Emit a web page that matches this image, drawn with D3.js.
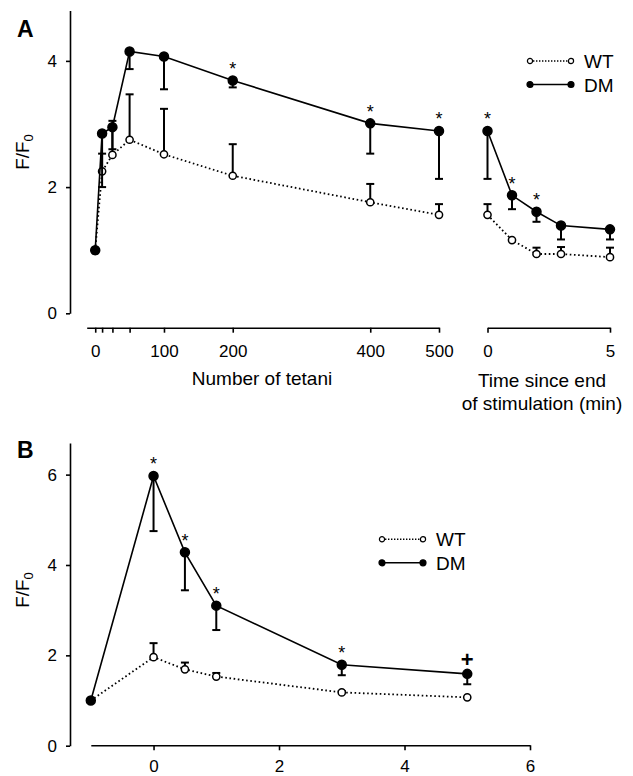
<!DOCTYPE html>
<html>
<head>
<meta charset="utf-8">
<script src="https://cdn.jsdelivr.net/npm/d3@7"></script>
<style>
  body { margin: 0; background: #fff; }
  text { font-family: "Liberation Sans", Arial, sans-serif; fill: #000; }
</style>
</head>
<body>
<script>
// Panel A, left part: number of tetani
var tetani = [0, 10, 25, 50, 100, 200, 400, 500];
var tetaniTicks = [0, 10, 25, 50, 100, 200, 400, 500];
var tetaniLabels = [0, 100, 200, 400, 500];
var wtTet = [1.0, 2.25, 2.51, 2.75, 2.52, 2.18, 1.76, 1.56];
var wtTetSem = [0, 0.28, 0.54, 0.72, 0.72, 0.50, 0.29, 0.17];
var dmTet = [1.0, 2.85, 2.95, 4.15, 4.07, 3.69, 3.01, 2.89];
var dmTetSem = [0, 0.85, 0.35, 0.28, 0.52, 0.11, 0.48, 0.76];
var sigTet = [200, 400, 500];

// Panel A, right part: time since end of stimulation (min)
var timeA = [0, 1, 2, 3, 5];
var timeATicks = [0, 5];
var wtTime = [1.56, 1.16, 0.94, 0.94, 0.89];
var wtTimeSem = [0.17, 0, 0.10, 0.11, 0.15];
var dmTime = [2.89, 1.87, 1.61, 1.39, 1.33];
var dmTimeSem = [0.76, 0.22, 0.16, 0.22, 0.16];
var sigTime = [0, 1, 2];
var yTicksA = [0, 2, 4];

// Panel B
var timeB = [-1, 0, 0.5, 1, 3, 5];
var xTicksB = [0, 2, 4, 6];
var wtB = [1.0, 1.96, 1.69, 1.53, 1.18, 1.07];
var wtBSem = [0, 0.31, 0.15, 0.08, 0.03, 0];
var dmB = [1.0, 5.97, 4.28, 3.10, 1.79, 1.59];
var dmBSem = [0, 1.22, 0.84, 0.54, 0.23, 0.23];
var sigB = [0, 0.5, 1, 3];
var plusB = [5];
var yTicksB = [0, 2, 4, 6];

var seriesNames = ["WT", "DM"];

var svg = d3.select("body").append("svg")
    .attr("width", 633)
    .attr("height", 776);

// scales
var xTet = d3.scaleLinear().domain([-12.4, 500]).range([86.7, 439]);
var xTimeA = d3.scaleLinear().domain([0, 5]).range([487.5, 610]);
var yA = d3.scaleLinear().domain([0, 4.8]).range([313.3, 10.4]);
var xB = d3.scaleLinear().domain([-1, 6]).range([90.8, 530]);
var yB = d3.scaleLinear().domain([0, 6.7]).range([745.7, 443]);

var intFmt = d3.format("d");

function zip(xs, ys, es) {
    return xs.map(function(x, i) { return {x: x, y: ys[i], e: es[i]}; });
}

function styleAxis(g, size) {
    g.select(".domain").attr("stroke", "#000").attr("stroke-width", 1.6);
    g.selectAll(".tick line").attr("stroke", "#000").attr("stroke-width", 1.6);
    g.selectAll(".tick text")
        .attr("font-family", "Liberation Sans, Arial, sans-serif")
        .attr("font-size", size + "px")
        .attr("fill", "#000");
}

// draws one series: line, error bars, markers
function drawSeries(x, y, data, filled, up) {
    var line = d3.line()
        .x(function(d) { return x(d.x); })
        .y(function(d) { return y(d.y); });

    var g = svg.append("g");

    var bars = g.selectAll(".err")
        .data(data.filter(function(d) { return d.e > 0; }))
        .enter().append("g");
    bars.append("line")
        .attr("x1", function(d) { return x(d.x); })
        .attr("x2", function(d) { return x(d.x); })
        .attr("y1", function(d) { return y(d.y); })
        .attr("y2", function(d) { return y(up ? d.y + d.e : d.y - d.e); })
        .attr("stroke", "#000").attr("stroke-width", 2);
    bars.append("line")
        .attr("x1", function(d) { return x(d.x) - 4; })
        .attr("x2", function(d) { return x(d.x) + 4; })
        .attr("y1", function(d) { return y(up ? d.y + d.e : d.y - d.e); })
        .attr("y2", function(d) { return y(up ? d.y + d.e : d.y - d.e); })
        .attr("stroke", "#000").attr("stroke-width", 2);

    g.append("path")
        .datum(data)
        .attr("d", line)
        .attr("fill", "none")
        .attr("stroke", "#000")
        .attr("stroke-width", filled ? 1.6 : 1.8)
        .attr("stroke-dasharray", filled ? null : "1.6,2.6");

    g.selectAll("circle")
        .data(data)
        .enter().append("circle")
        .attr("cx", function(d) { return x(d.x); })
        .attr("cy", function(d) { return y(d.y); })
        .attr("r", filled ? 4.5 : 3.6)
        .attr("fill", filled ? "#000" : "#fff")
        .attr("stroke", "#000")
        .attr("stroke-width", 1.5);
}

function drawMarks(x, y, xs, dmVals, xsAll, sym) {
    svg.append("g").selectAll("text")
        .data(xs)
        .enter().append("text")
        .attr("x", function(d) { return x(d); })
        .attr("y", function(d) { return y(dmVals[xsAll.indexOf(d)]) - (sym === "+" ? 7 : 5.5); })
        .attr("text-anchor", "middle")
        .attr("font-size", sym === "+" ? "22px" : "18px")
        .attr("font-weight", sym === "+" ? "bold" : "normal")
        .text(sym);
}

function drawLegend(x0, y0) {
    var g = svg.append("g").attr("transform", "translate(" + x0 + "," + y0 + ")");
    seriesNames.forEach(function(name, i) {
        var yy = i * 23.5;
        g.append("line")
            .attr("x1", 0).attr("x2", 41).attr("y1", yy).attr("y2", yy)
            .attr("stroke", "#000")
            .attr("stroke-width", i ? 1.6 : 1.4)
            .attr("stroke-dasharray", i ? null : "1.4,1.6");
        g.selectAll(".m" + i)
            .data([0, 41])
            .enter().append("circle")
            .attr("cx", function(d) { return d; })
            .attr("cy", yy)
            .attr("r", i ? 3 : 2.6)
            .attr("fill", i ? "#000" : "#fff")
            .attr("stroke", "#000")
            .attr("stroke-width", 1.2);
        g.append("text")
            .attr("x", 54).attr("y", yy + 7)
            .attr("font-size", "19px")
            .text(name);
    });
}

// ---------- Panel A ----------
svg.append("g")
    .attr("transform", "translate(70,0)")
    .call(d3.axisLeft(yA).tickValues(yTicksA).tickFormat(intFmt)
        .tickSize(4).tickPadding(9).tickSizeOuter(0))
    .call(styleAxis, 17);

svg.append("g")
    .attr("transform", "translate(0,327.7)")
    .call(d3.axisBottom(xTet).tickValues(tetaniTicks).tickSize(5).tickPadding(12).tickSizeOuter(0)
        .tickFormat(function(d) { return tetaniLabels.indexOf(d) >= 0 ? intFmt(d) : ""; }))
    .call(styleAxis, 17);

svg.append("g")
    .attr("transform", "translate(0,327.7)")
    .call(d3.axisBottom(xTimeA).tickValues(timeATicks).tickFormat(intFmt)
        .tickSize(5).tickPadding(12).tickSizeOuter(0))
    .call(styleAxis, 17);

drawSeries(xTet, yA, zip(tetani, wtTet, wtTetSem), false, true);
drawSeries(xTet, yA, zip(tetani, dmTet, dmTetSem), true, false);
drawSeries(xTimeA, yA, zip(timeA, wtTime, wtTimeSem), false, true);
drawSeries(xTimeA, yA, zip(timeA, dmTime, dmTimeSem), true, false);

drawMarks(xTet, yA, sigTet, dmTet, tetani, "*");
drawMarks(xTimeA, yA, sigTime, dmTime, timeA, "*");

drawLegend(530, 61);

svg.append("text").attr("x", 17).attr("y", 37)
    .attr("font-size", "23px").attr("font-weight", "bold").text("A");

svg.append("text").attr("x", 262).attr("y", 385)
    .attr("text-anchor", "middle").attr("font-size", "19px").text("Number of tetani");
svg.append("text").attr("x", 542).attr("y", 387)
    .attr("text-anchor", "middle").attr("font-size", "19px").text("Time since end");
svg.append("text").attr("x", 542).attr("y", 410)
    .attr("text-anchor", "middle").attr("font-size", "19px").text("of stimulation (min)");

function yLabel(cy) {
    var t = svg.append("text")
        .attr("transform", "translate(29," + cy + ") rotate(-90)")
        .attr("text-anchor", "middle")
        .attr("font-size", "19px");
    t.append("tspan").text("F/F");
    t.append("tspan").attr("font-size", "13px").attr("dy", "4").text("0");
}
yLabel(152);

// ---------- Panel B ----------
svg.append("g")
    .attr("transform", "translate(70,0)")
    .call(d3.axisLeft(yB).tickValues(yTicksB).tickFormat(intFmt)
        .tickSize(4).tickPadding(9).tickSizeOuter(0))
    .call(styleAxis, 17);

svg.append("g")
    .attr("transform", "translate(0,745.3)")
    .call(d3.axisBottom(xB).tickValues(xTicksB).tickFormat(intFmt)
        .tickSize(5).tickPadding(10).tickSizeOuter(0))
    .call(styleAxis, 17);

drawSeries(xB, yB, zip(timeB, wtB, wtBSem), false, true);
drawSeries(xB, yB, zip(timeB, dmB, dmBSem), true, false);

drawMarks(xB, yB, sigB, dmB, timeB, "*");
drawMarks(xB, yB, plusB, dmB, timeB, "+");

drawLegend(382, 539.3);

svg.append("text").attr("x", 17).attr("y", 458)
    .attr("font-size", "23px").attr("font-weight", "bold").text("B");

yLabel(590);
</script>
</body>
</html>
